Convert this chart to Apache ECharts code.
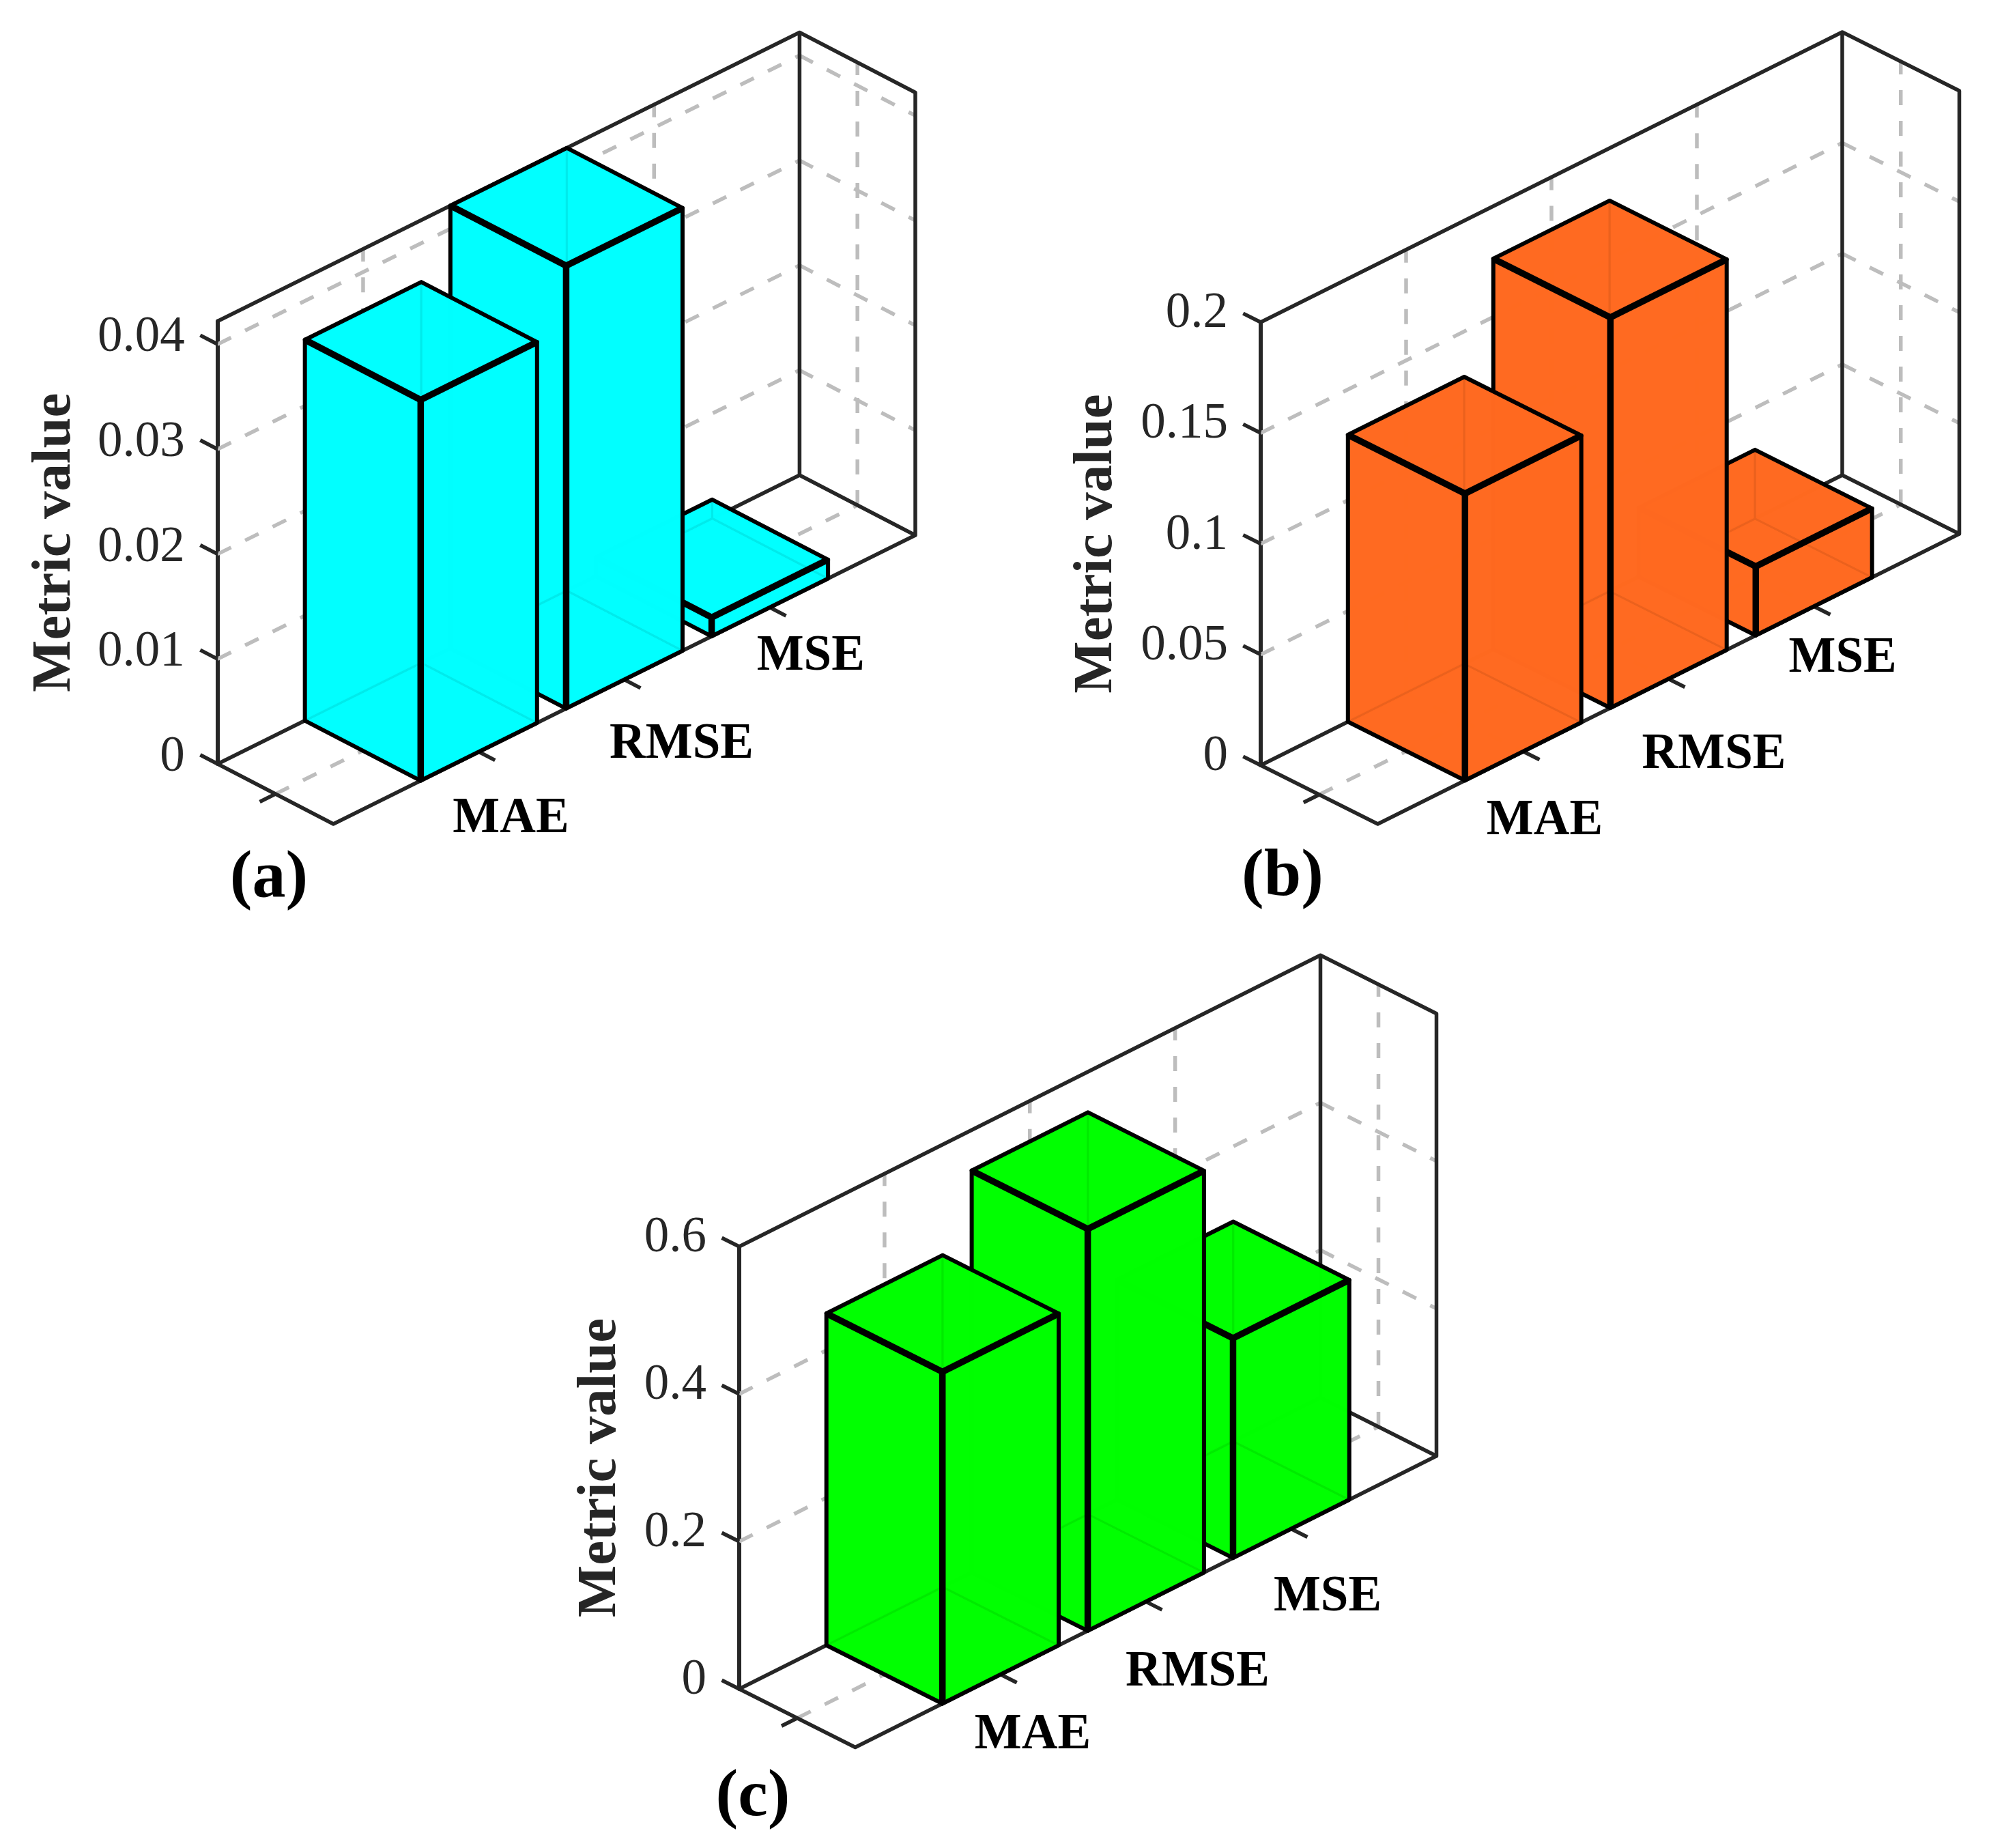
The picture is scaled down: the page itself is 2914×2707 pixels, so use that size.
<!DOCTYPE html>
<html><head><meta charset="utf-8">
<style>html,body{margin:0;padding:0;background:#fff}#c{width:2914px;height:2707px}</style>
<script src="https://cdn.jsdelivr.net/npm/echarts@6/dist/echarts.min.js"></script>
</head><body><div id="c"></div>
<script>
const categories = ['MAE', 'RMSE', 'MSE'];
const valuesA = [0.0363, 0.0422, 0.0018];
const valuesB = [0.1295, 0.1763, 0.0311];
const valuesC = [0.45, 0.545, 0.298];
const maxA = 0.0422, maxB = 0.2, maxC = 0.6;
const stepA = 0.01, stepB = 0.05, stepC = 0.2;
const ticksA = [0, 0.01, 0.02, 0.03, 0.04];
const ticksB = [0, 0.05, 0.1, 0.15, 0.2];
const ticksC = [0, 0.2, 0.4, 0.6];
const panelTags = ['(a)', '(b)', '(c)'];

const FONT = '"Liberation Serif","Times New Roman",serif';
const FRAME = '#262626', GRID = '#bdbdbd';
const LW = 5.5, THIN = 6, HIDDEN = 3, THICK = 9.5;
const layouts = [
 {o:[318.8,1119], h:648.5, a:[852.6,-423], b:[169.6,88], fill:'rgba(0,255,255,0.92)', nameGap:197, labelLine:18,
  labels:[[748.5,1200],[998.5,1091.5],[1187.8,962]], tag:[394,1288], values:valuesA, max:maxA, step:stepA, ticks:ticksA},
 {o:[1847,1121], h:649, a:[852,-425], b:[171.5,86], fill:'rgba(255,105,32,0.92)', nameGap:199, labelLine:24,
  labels:[[2263,1203],[2511,1106],[2699.6,965]], tag:[1879,1286], values:valuesB, max:maxB, step:stepB, ticks:ticksB},
 {o:[1083,2474], h:648, a:[851.5,-426.7], b:[170,85.5], fill:'rgba(0,255,0,0.92)', nameGap:162, labelLine:24,
  labels:[[1513,2542],[1754.4,2450],[1945,2340]], tag:[1103,2634], values:valuesC, max:maxC, step:stepC, ticks:ticksC}
];

function projector(api, L){
  return (u, v, val) => {
    const p = api.coord([u, val]);
    return [p[0] + v * L.b[0], p[1] + (u / 4) * L.a[1] + v * L.b[1]];
  };
}
function line(pts, w, color, dash){
  return {type:'polyline', silent:true, shape:{points:pts},
    style:{fill:null, stroke:color, lineWidth:w, lineDash:dash||null, lineJoin:'round', lineCap:'butt'}};
}
function frameItem(L){
  return function(params, api){
    const P = projector(api, L), top = L.max, ch = [];
    const dash = [22, 23];
    L.ticks.forEach(t => {
      if (t <= 0 || t >= L.max) return;
      ch.push(line([P(0,0,t), P(4,0,t)], LW, GRID, dash));
      ch.push(line([P(4,0,t), P(4,1,t)], LW, GRID, dash));
    });
    [1,2,3].forEach(u => {
      ch.push(line([P(u,0,0), P(u,0,top)], LW, GRID, dash));
      ch.push(line([P(u,0,0), P(u,1,0)], LW, GRID, dash));
    });
    ch.push(line([P(0,0.5,0), P(4,0.5,0)], LW, GRID, dash));
    ch.push(line([P(4,0.5,0), P(4,0.5,top)], LW, GRID, dash));
    ch.push(line([P(0,0,top), P(4,0,top), P(4,1,top), P(4,1,0), P(4,0,0), P(4,0,top)], LW, FRAME));
    ch.push(line([P(0,0,0), P(4,0,0)], LW, FRAME));
    ch.push(line([P(0,0,0), P(0,1,0), P(4,1,0)], LW, FRAME));
    L.ticks.forEach(t => {
      const s = P(0,0,t);
      ch.push(line([s, [s[0]-0.15*L.b[0], s[1]-0.15*L.b[1]]], LW, FRAME));
    });
    [1,2,3].forEach(u => {
      const s = P(u,1,0);
      ch.push(line([s, [s[0]+0.14*L.b[0], s[1]+0.14*L.b[1]]], LW, FRAME));
    });
    const d = P(0,0.5,0);
    ch.push(line([d, [d[0]-0.027*L.a[0], d[1]-0.027*L.a[1]]], LW, FRAME));
    categories.forEach((c,i) => ch.push({type:'text', silent:true, x:L.labels[i][0], y:L.labels[i][1],
      style:{text:c, font:'bold 73px '+FONT, fill:'#000', textAlign:'center', textVerticalAlign:'middle'}}));
    return {type:'group', children:ch};
  };
}
function barItem(L){
  return function(params, api){
    const P = projector(api, L);
    const c = api.value(0), val = api.value(1);
    const u0 = c - 0.4, u1 = c + 0.4;
    const poly = (pts, w) => ({type:'polygon', silent:true, shape:{points:pts},
      style:{fill:L.fill, stroke:'#000', lineWidth:w, lineJoin:'round'}});
    const b00=P(u0,0,0), b01=P(u0,1,0), b11=P(u1,1,0), b10=P(u1,0,0);
    const t00=P(u0,0,val), t01=P(u0,1,val), t11=P(u1,1,val), t10=P(u1,0,val);
    return {type:'group', children:[
      poly([b00,b01,b11,b10], HIDDEN),
      poly([b00,b10,t10,t00], HIDDEN),
      poly([b10,b11,t11,t10], HIDDEN),
      poly([b00,b01,t01,t00], THIN),
      poly([b01,b11,t11,t01], THIN),
      poly([t00,t01,t11,t10], THIN),
      line([t00,t01,t11], THICK, '#000'),
      line([t01,b01], THICK, '#000')
    ]};
  };
}

const grids = [], xAxes = [], yAxes = [], series = [], graphics = [];
layouts.forEach((L,i) => {
  grids.push({left:L.o[0], top:L.o[1]-L.h, width:L.a[0], height:L.h});
  xAxes.push({gridIndex:i, type:'value', min:0, max:4, show:false});
  yAxes.push({gridIndex:i, type:'value', min:0, max:L.max, interval:L.step,
    axisLine:{show:true, onZero:false, lineStyle:{color:FRAME, width:6}},
    axisTick:{show:false}, splitLine:{show:false},
    axisLabel:{show:true, color:FRAME, fontFamily:FONT, fontSize:73, margin:48,
      verticalAlign:'bottom', lineHeight:L.labelLine,
      showMaxLabel: L.ticks[L.ticks.length-1] === L.max, showMinLabel:true},
    name:'Metric value', nameLocation:'middle', nameRotate:90, nameGap:L.nameGap,
    nameTextStyle:{fontFamily:FONT, fontWeight:'bold', fontSize:81, color:FRAME}
  });
  series.push({type:'custom', xAxisIndex:i, yAxisIndex:i, z:2, clip:false, silent:true,
    data:[[0,0]], encode:{x:0,y:1}, renderItem:frameItem(L)});
  series.push({type:'custom', xAxisIndex:i, yAxisIndex:i, z:3, clip:false, silent:true,
    data:L.values.map((v,k)=>[k+1,v]).reverse(), encode:{x:0,y:1}, renderItem:barItem(L)});
  graphics.push({type:'text', x:L.tag[0], y:L.tag[1], silent:true,
    style:{text:panelTags[i], font:'bold 98px '+FONT, fill:'#000', textAlign:'center', textVerticalAlign:'middle'}});
});
const chart = echarts.init(document.getElementById('c'), null, {width:2914, height:2707});
chart.setOption({animation:false, backgroundColor:'#fff', grid:grids, xAxis:xAxes, yAxis:yAxes, series, graphic:graphics});
</script></body></html>
